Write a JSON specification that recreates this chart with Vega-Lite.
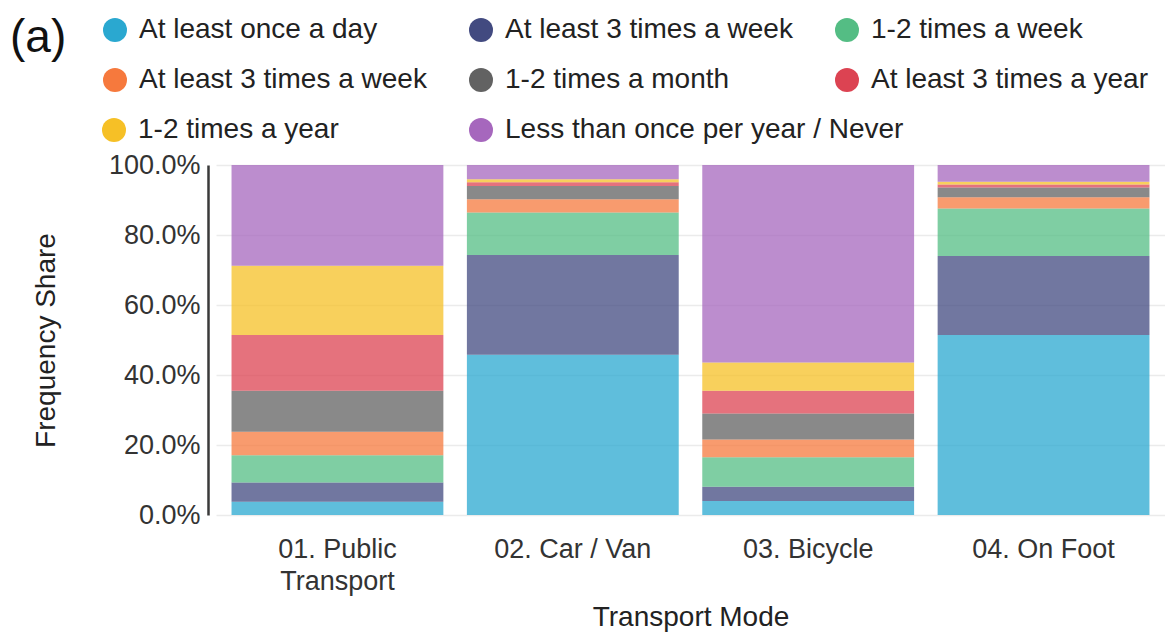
{
  "$schema": "https://vega.github.io/schema/vega-lite/v6.json",
  "autosize": {"type": "none"},
  "padding": {"left": 216, "top": 165, "right": 0, "bottom": 118},
  "width": 949,
  "height": 350,
  "background": "white",
  "config": {
    "font": "Liberation Sans",
    "view": {"stroke": null},
    "axis": {"labelColor": "#333", "titleColor": "#222", "titleFontWeight": "normal"},
    "legend": {"labelColor": "#222", "titleColor": "#111", "titleFontWeight": "normal"}
  },
  "data": {
    "values": [
      {"mode": "01. Public Transport", "cat": "c1", "share": 3.8},
      {"mode": "01. Public Transport", "cat": "c2", "share": 5.5},
      {"mode": "01. Public Transport", "cat": "c3", "share": 7.8},
      {"mode": "01. Public Transport", "cat": "c4", "share": 6.7},
      {"mode": "01. Public Transport", "cat": "c5", "share": 11.7},
      {"mode": "01. Public Transport", "cat": "c6", "share": 15.9},
      {"mode": "01. Public Transport", "cat": "c7", "share": 19.8},
      {"mode": "01. Public Transport", "cat": "c8", "share": 28.8},
      {"mode": "02. Car / Van", "cat": "c1", "share": 45.8},
      {"mode": "02. Car / Van", "cat": "c2", "share": 28.5},
      {"mode": "02. Car / Van", "cat": "c3", "share": 12.1},
      {"mode": "02. Car / Van", "cat": "c4", "share": 3.8},
      {"mode": "02. Car / Van", "cat": "c5", "share": 3.8},
      {"mode": "02. Car / Van", "cat": "c6", "share": 1.1},
      {"mode": "02. Car / Van", "cat": "c7", "share": 0.8},
      {"mode": "02. Car / Van", "cat": "c8", "share": 4.1},
      {"mode": "03. Bicycle", "cat": "c1", "share": 4.0},
      {"mode": "03. Bicycle", "cat": "c2", "share": 4.1},
      {"mode": "03. Bicycle", "cat": "c3", "share": 8.4},
      {"mode": "03. Bicycle", "cat": "c4", "share": 5.1},
      {"mode": "03. Bicycle", "cat": "c5", "share": 7.4},
      {"mode": "03. Bicycle", "cat": "c6", "share": 6.5},
      {"mode": "03. Bicycle", "cat": "c7", "share": 8.1},
      {"mode": "03. Bicycle", "cat": "c8", "share": 56.4},
      {"mode": "04. On Foot", "cat": "c1", "share": 51.4},
      {"mode": "04. On Foot", "cat": "c2", "share": 22.6},
      {"mode": "04. On Foot", "cat": "c3", "share": 13.6},
      {"mode": "04. On Foot", "cat": "c4", "share": 3.2},
      {"mode": "04. On Foot", "cat": "c5", "share": 2.8},
      {"mode": "04. On Foot", "cat": "c6", "share": 0.8},
      {"mode": "04. On Foot", "cat": "c7", "share": 0.8},
      {"mode": "04. On Foot", "cat": "c8", "share": 4.8}
    ]
  },
  "encoding": {
    "x": {
      "field": "mode",
      "type": "nominal",
      "scale": {"paddingInner": 0.1, "paddingOuter": 0.066},
      "axis": {
        "title": "Transport Mode",
        "titleFontSize": 28,
        "titlePadding": 9,
        "labelAngle": 0,
        "labelFontSize": 27,
        "labelLineHeight": 32,
        "labelBaseline": "top",
        "labelPadding": 21,
        "labelLimit": 400,
        "labelExpr": "datum.label == '01. Public Transport' ? ['01. Public', 'Transport'] : datum.label",
        "domain": false,
        "ticks": false
      }
    },
    "y": {
      "field": "share",
      "type": "quantitative",
      "stack": "zero",
      "scale": {"domain": [0, 100], "nice": false},
      "axis": {
        "title": "Frequency Share",
        "titleFontSize": 28,
        "titlePadding": 48,
        "values": [0, 20, 40, 60, 80, 100],
        "labelExpr": "format(datum.value, '.1f') + '%'",
        "labelFontSize": 27,
        "labelPadding": 8,
        "offset": 8,
        "ticks": false,
        "domainColor": "#3a3a3a",
        "domainWidth": 2.5,
        "gridColor": "#ebebeb",
        "gridWidth": 1.5
      }
    },
    "order": {"field": "cat", "sort": "ascending"}
  },
  "layer": [
    {
      "mark": {"type": "bar", "opacity": 0.75},
      "encoding": {
        "color": {
          "field": "cat",
          "type": "nominal",
          "scale": {
            "domain": ["c1", "c2", "c3", "c4", "c5", "c6", "c7", "c8"],
            "range": ["#2aa8d0", "#424a80", "#54bd84", "#f6793d", "#626262", "#dc4352", "#f6c026", "#a667bd"]
          },
          "legend": {
            "values": ["c1", "c4", "c2", "c5", "c3", "c6"],
            "orient": "none",
            "legendX": -206,
            "legendY": -149,
            "title": "(a)",
            "titleOrient": "left",
            "titleAnchor": "start",
            "titleBaseline": "top",
            "titleFontSize": 46,
            "titlePadding": 34,
            "columns": 3,
            "gridAlign": "each",
            "columnPadding": 40,
            "rowPadding": 22,
            "symbolType": "circle",
            "symbolSize": 576,
            "symbolStrokeWidth": 0,
            "symbolOpacity": 1,
            "labelFontSize": 28,
            "labelOffset": 10,
            "labelLimit": 500,
            "labelExpr": "datum.value == 'c1' ? 'At least once a day' : datum.value == 'c2' ? 'At least 3 times a week' : datum.value == 'c3' ? '1-2 times a week' : datum.value == 'c4' ? 'At least 3 times a week' : datum.value == 'c5' ? '1-2 times a month' : 'At least 3 times a year'",
            "encode": {"symbols": {"update": {"opacity": {"value": 1}}}}
          }
        }
      }
    },
    {
      "transform": [{"filter": "datum.cat == 'c7' || datum.cat == 'c8'"}],
      "mark": {"type": "bar", "opacity": 0},
      "encoding": {
        "color": {
          "field": "cat",
          "type": "nominal",
          "scale": {"domain": ["c7", "c8"], "range": ["#f6c026", "#a667bd"]},
          "legend": {
            "orient": "none",
            "legendX": -116,
            "legendY": -49,
            "title": null,
            "columns": 2,
            "gridAlign": "each",
            "columnPadding": 128,
            "symbolType": "circle",
            "symbolSize": 576,
            "symbolStrokeWidth": 0,
            "symbolOpacity": 1,
            "labelFontSize": 28,
            "labelOffset": 10,
            "labelLimit": 500,
            "labelExpr": "datum.value == 'c7' ? '1-2 times a year' : 'Less than once per year / Never'",
            "encode": {"symbols": {"update": {"opacity": {"value": 1}}}}
          }
        }
      }
    }
  ],
  "resolve": {"scale": {"color": "independent"}, "legend": {"color": "independent"}}
}
